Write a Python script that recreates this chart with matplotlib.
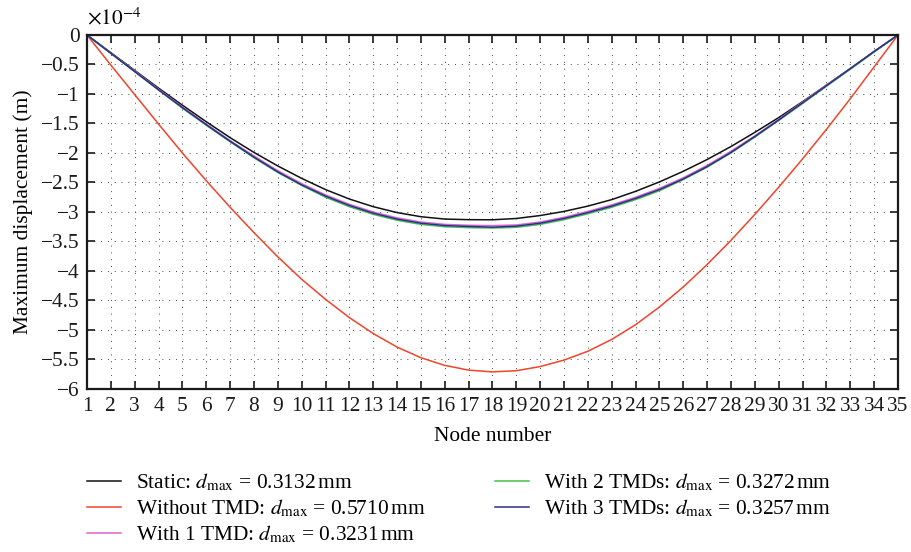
import numpy as np
import matplotlib
matplotlib.use('Agg')
from matplotlib import pyplot as plt
from matplotlib.ticker import FuncFormatter

plt.rcParams['font.family'] = ['Liberation Serif', 'DejaVu Serif']
plt.rcParams['mathtext.fontset'] = 'stix'
plt.rcParams['axes.unicode_minus'] = True

nodes = list(range(1, 36))

# values in units of 1e-4 m
static = [0, -0.30, -0.60, -0.90, -1.19, -1.47, -1.74, -1.99, -2.22, -2.43,
          -2.62, -2.78, -2.91, -3.01, -3.08, -3.12, -3.13, -3.132, -3.11, -3.06,
          -2.99, -2.90, -2.79, -2.65, -2.49, -2.31, -2.11, -1.89, -1.65, -1.40,
          -1.13, -0.85, -0.57, -0.28, 0]
no_tmd = [0, -0.51, -1.01, -1.51, -2.00, -2.47, -2.92, -3.35, -3.76, -4.14,
          -4.48, -4.79, -5.06, -5.29, -5.47, -5.60, -5.68, -5.71, -5.69, -5.62,
          -5.51, -5.36, -5.16, -4.91, -4.61, -4.27, -3.89, -3.48, -3.04, -2.58,
          -2.10, -1.60, -1.08, -0.54, 0]
tmd1 = [0, -0.31, -0.61, -0.92, -1.22, -1.51, -1.79, -2.05, -2.30, -2.52,
        -2.71, -2.87, -3.00, -3.10, -3.17, -3.21, -3.225, -3.231, -3.22, -3.17,
        -3.09, -2.99, -2.88, -2.75, -2.60, -2.42, -2.21, -1.97, -1.71, -1.43,
        -1.14, -0.85, -0.57, -0.28, 0]
tmd2 = [0, -0.31, -0.62, -0.93, -1.24, -1.53, -1.81, -2.08, -2.33, -2.55,
        -2.75, -2.91, -3.04, -3.14, -3.21, -3.25, -3.265, -3.272, -3.26, -3.21,
        -3.13, -3.03, -2.92, -2.79, -2.64, -2.45, -2.24, -2.00, -1.73, -1.45,
        -1.16, -0.87, -0.58, -0.29, 0]
tmd3 = [0, -0.31, -0.62, -0.93, -1.23, -1.52, -1.80, -2.07, -2.32, -2.54,
        -2.73, -2.89, -3.02, -3.12, -3.19, -3.23, -3.245, -3.257, -3.24, -3.19,
        -3.11, -3.01, -2.90, -2.77, -2.62, -2.44, -2.23, -1.99, -1.72, -1.44,
        -1.15, -0.86, -0.57, -0.28, 0]

labels = [r'Static: $d_{\mathrm{max}}$ = 0.3132$\,$mm',
          r'Without TMD: $d_{\mathrm{max}}$ = 0.5710$\,$mm',
          r'With 1 TMD: $d_{\mathrm{max}}$ = 0.3231$\,$mm',
          r'With 2 TMDs: $d_{\mathrm{max}}$ = 0.3272$\,$mm',
          r'With 3 TMDs: $d_{\mathrm{max}}$ = 0.3257$\,$mm']
colors = ['#111111', '#f0442c', '#d868c8', '#45c050', '#2c2e8c']
fs = 15.4

fig = plt.figure(figsize=(9.11, 5.52), dpi=100)
ax = fig.add_axes([0.0955, 0.2953, 0.8902, 0.6413])

series = [static, no_tmd, tmd1, tmd2, tmd3]
for vals, lab, c in zip(series, labels, colors):
    ax.plot(nodes, vals, color=c, linewidth=1.1, label=lab)

ax.set_xlim(1, 35)
ax.set_ylim(-6, 0)
ax.set_xticks(nodes)
ax.set_yticks(np.arange(-6, 0.01, 0.5))

def fmt(v, pos):
    s = ('%g' % v)
    return s.replace('-', '\u2212')
ax.yaxis.set_major_formatter(FuncFormatter(fmt))

ax.tick_params(direction='in', top=True, right=True, length=6, width=1.2,
               labelsize=fs, colors='#1a1a1a', pad=5)
ax.tick_params(axis='x', pad=6)
for sp in ax.spines.values():
    sp.set_linewidth(1.6)
    sp.set_color('#1a1a1a')
ax.grid(True, linestyle=(0, (1, 6)), color='#444444', linewidth=0.7)

ax.text(0, 1.015, r'$\times10^{-4}$', transform=ax.transAxes, fontsize=fs,
        ha='left', va='bottom')
ax.set_xlabel('Node number', fontsize=fs, labelpad=8)
ax.set_ylabel('Maximum displacement (m)', fontsize=fs, labelpad=6)

fig.legend(loc='upper left', bbox_to_anchor=(0.0955, 0.146), ncol=2,
           frameon=False, fontsize=fs, handlelength=1.6, handletextpad=0.7,
           columnspacing=3.25, labelspacing=0.2, borderaxespad=0, borderpad=0)

fig.savefig('out.png', dpi=100)
